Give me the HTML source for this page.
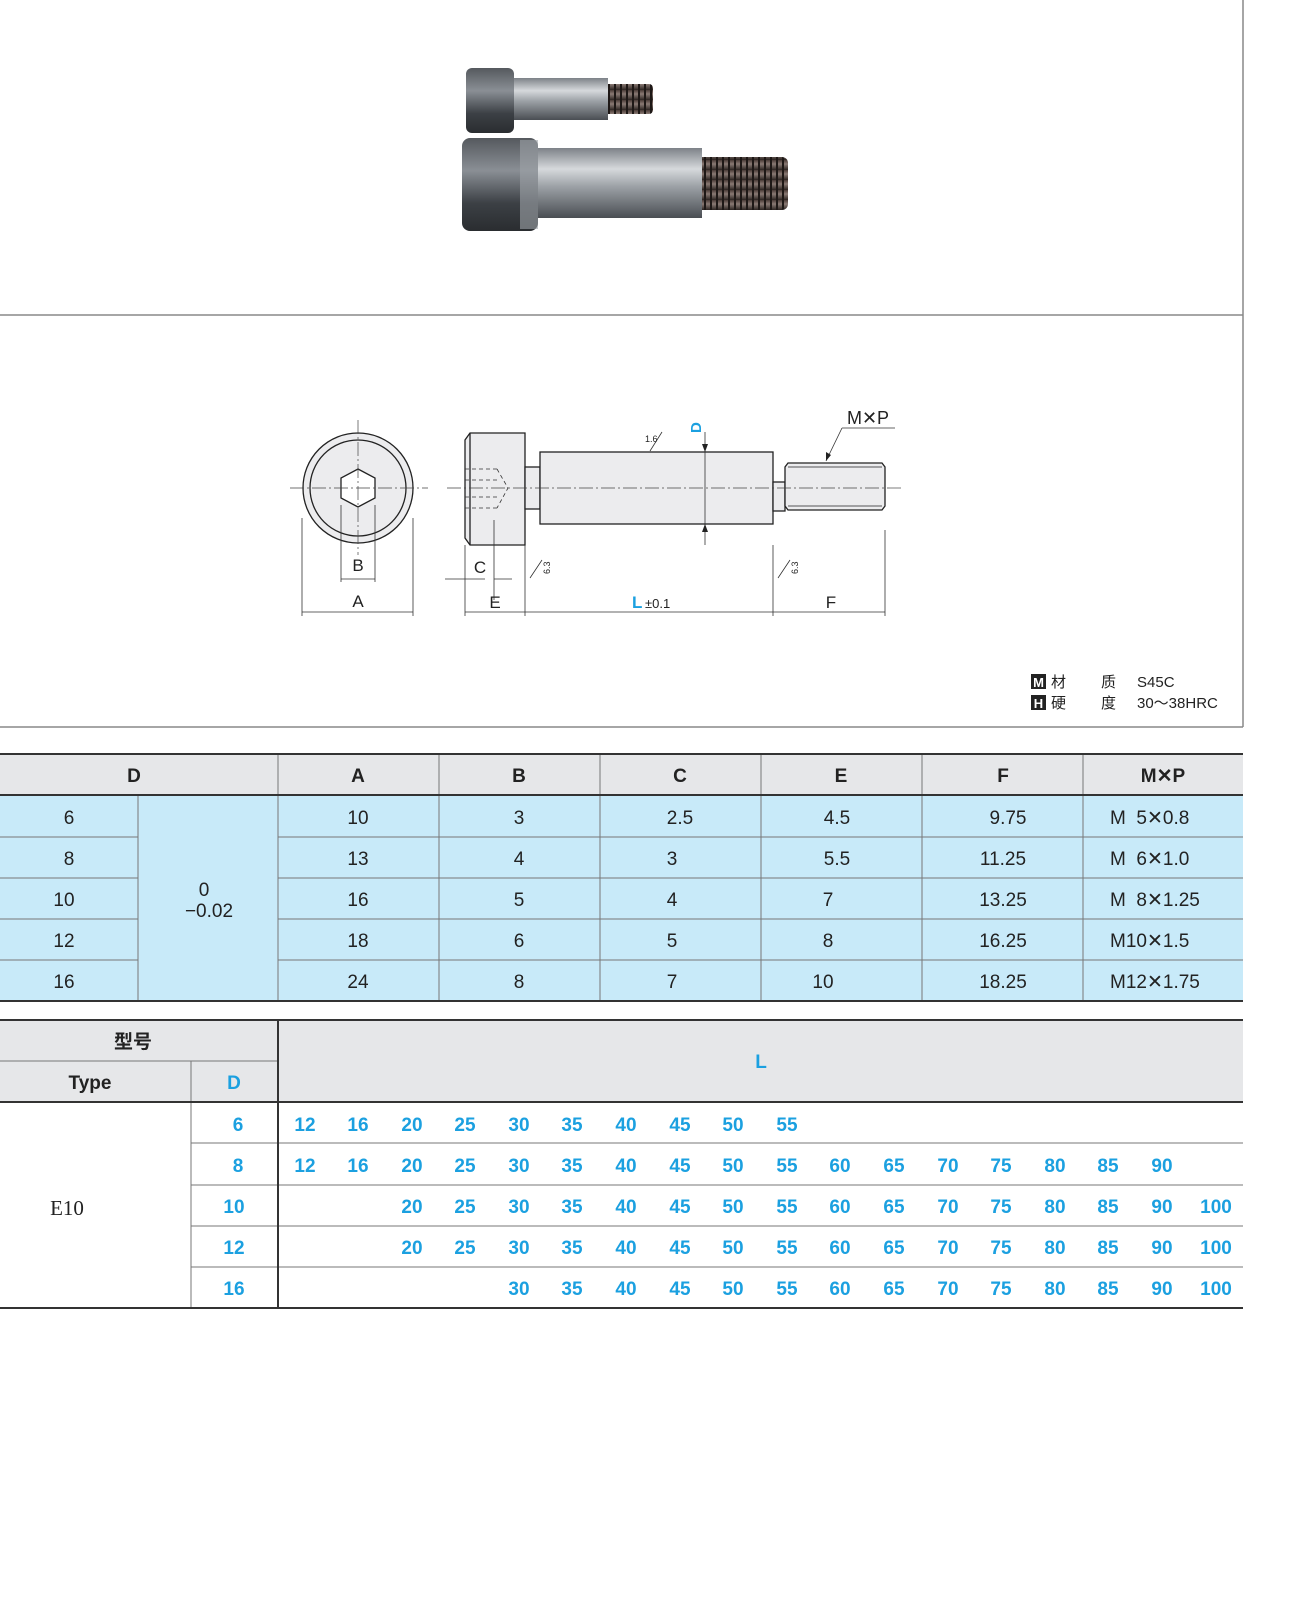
<!DOCTYPE html>
<html><head><meta charset="utf-8"><style>
html,body{margin:0;padding:0;background:#fff;width:1292px;height:1615px;overflow:hidden}
svg{display:block}
text{font-family:"Liberation Sans","Noto Sans CJK SC",sans-serif;white-space:pre}
</style></head><body>
<svg width="1292" height="1615" viewBox="0 0 1292 1615" xmlns="http://www.w3.org/2000/svg">
<defs>
<linearGradient id="hd" x1="0" y1="0" x2="0" y2="1"><stop offset="0" stop-color="#55595e"/><stop offset=".35" stop-color="#8a8f95"/><stop offset=".7" stop-color="#3c4045"/><stop offset="1" stop-color="#2a2d30"/></linearGradient>
<linearGradient id="sh" x1="0" y1="0" x2="0" y2="1"><stop offset="0" stop-color="#7d8288"/><stop offset=".3" stop-color="#d6d9dc"/><stop offset=".55" stop-color="#9ca1a6"/><stop offset="1" stop-color="#4a4e53"/></linearGradient>
<linearGradient id="th" x1="0" y1="0" x2="0" y2="1"><stop offset="0" stop-color="#4a3b36"/><stop offset=".4" stop-color="#8a7a74"/><stop offset="1" stop-color="#2b2320"/></linearGradient>
<pattern id="thr" width="6" height="10" patternUnits="userSpaceOnUse"><rect width="6" height="10" fill="url(#th)"/><line x1="3" y1="0" x2="3" y2="10" stroke="#1e1816" stroke-width="2"/></pattern>
</defs>
<rect width="1292" height="1615" fill="#fff"/>
<line x1="1243" y1="0" x2="1243" y2="727" stroke="#888" stroke-width="1.5"/>
<line x1="0" y1="315" x2="1243" y2="315" stroke="#888" stroke-width="1.5"/>
<line x1="0" y1="727" x2="1243" y2="727" stroke="#888" stroke-width="1.5"/>
<rect x="598" y="84" width="55" height="30" rx="4" fill="url(#thr)"/>
<rect x="510" y="78" width="98" height="42" fill="url(#sh)"/>
<rect x="466" y="68" width="48" height="65" rx="6" fill="url(#hd)"/>
<rect x="692" y="157" width="96" height="53" rx="6" fill="url(#thr)"/>
<rect x="530" y="148" width="172" height="70" fill="url(#sh)"/>
<rect x="462" y="138" width="76" height="93" rx="8" fill="url(#hd)"/>
<rect x="520" y="140" width="18" height="89" fill="#9ea3a8" opacity=".6"/>
<g stroke="#222" fill="none" stroke-width="1.3">
<circle cx="358" cy="488" r="55" fill="#ececee"/>
<circle cx="358" cy="488" r="48"/>
<polygon points="358,469 375,478 375,498 358,507 341,498 341,478" fill="#fff"/>
<polygon points="470,433 525,433 525,545 470,545 465,538 465,440" fill="#ececee"/>
<rect x="525" y="467" width="15" height="42" fill="#ececee"/>
<rect x="540" y="452" width="233" height="72" fill="#ececee"/>
<rect x="773" y="482" width="12" height="29" fill="#ececee"/>
<polygon points="788,463 882,463 885,467 885,506 882,510 788,510 785,506 785,467" fill="#ececee"/>
<line x1="470" y1="433" x2="470" y2="545"/>
<line x1="788" y1="467" x2="882" y2="467" stroke-width=".8"/>
<line x1="788" y1="506" x2="882" y2="506" stroke-width=".8"/>
</g>
<g stroke="#333" stroke-width=".8" fill="none" stroke-dasharray="4,3">
<line x1="465" y1="469" x2="497" y2="469"/><line x1="465" y1="508" x2="497" y2="508"/>
<line x1="465" y1="480" x2="497" y2="480"/><line x1="465" y1="497" x2="497" y2="497"/>
<polyline points="497,469 508,488 497,508"/>
</g>
<g stroke="#444" stroke-width=".7" stroke-dasharray="14,3,2,3">
<line x1="290" y1="488" x2="428" y2="488"/><line x1="358" y1="420" x2="358" y2="555"/>
<line x1="447" y1="488" x2="902" y2="488"/>
</g>
<g stroke="#333" stroke-width=".8">
<line x1="302" y1="518" x2="302" y2="616"/><line x1="413" y1="518" x2="413" y2="616"/>
<line x1="302" y1="612" x2="413" y2="612"/>
<line x1="341" y1="505" x2="341" y2="582"/><line x1="375" y1="505" x2="375" y2="582"/>
<line x1="341" y1="579" x2="375" y2="579"/>
<line x1="465" y1="545" x2="465" y2="616"/><line x1="525" y1="545" x2="525" y2="616"/>
<line x1="494" y1="520" x2="494" y2="600"/>
<line x1="445" y1="579" x2="485" y2="579"/><line x1="494" y1="579" x2="512" y2="579"/>
<line x1="465" y1="612" x2="885" y2="612"/>
<line x1="773" y1="545" x2="773" y2="616"/><line x1="885" y1="530" x2="885" y2="616"/>
<line x1="705" y1="432" x2="705" y2="545"/>
<line x1="826" y1="461" x2="842" y2="428"/><line x1="842" y1="428" x2="895" y2="428"/>
<line x1="650" y1="451" x2="662" y2="432"/>
<line x1="530" y1="578" x2="542" y2="560"/><line x1="778" y1="578" x2="790" y2="560"/>
</g>
<g fill="#222">
<polygon points="705,452 702,444 708,444"/><polygon points="705,524 702,532 708,532"/>
<polygon points="826,461 826,452 831,455"/>
</g>
<g font-size="17" fill="#222" text-anchor="middle">
<text x="358" y="571">B</text><text x="358" y="607">A</text>
<text x="480" y="573">C</text><text x="495" y="608">E</text>
<text x="831" y="608">F</text>
<text x="868" y="424" font-size="18">M✕P</text>
</g>
<text x="632" y="608" font-size="17" fill="#1ba0e0" font-weight="bold">L</text>
<text x="645" y="608" font-size="13" fill="#222">±0.1</text>
<text x="701" y="433" font-size="15" fill="#1ba0e0" font-weight="bold" transform="rotate(-90 701 433)">D</text>
<text x="645" y="442" font-size="9" fill="#222">1.6</text>
<text x="537" y="575" font-size="9" fill="#222" transform="rotate(-90 543 568)">6.3</text>
<text x="785" y="575" font-size="9" fill="#222" transform="rotate(-90 791 568)">6.3</text>
<rect x="1031" y="674" width="15" height="15" fill="#222"/><text x="1038.5" y="687" font-size="13" fill="#fff" text-anchor="middle" font-weight="bold">M</text>
<rect x="1031" y="695" width="15" height="15" fill="#222"/><text x="1038.5" y="708" font-size="13" fill="#fff" text-anchor="middle" font-weight="bold">H</text>
<g font-size="15" fill="#222">
<text x="1051" y="687">材</text><text x="1101" y="687">质</text><text x="1137" y="687">S45C</text>
<text x="1051" y="708">硬</text><text x="1101" y="708">度</text><text x="1137" y="708">30～38HRC</text>
</g>
<rect x="0" y="754" width="1243" height="41" fill="#e6e7e9"/>
<rect x="0" y="795" width="1243" height="206" fill="#c8eaf9"/>
<g stroke="#777" stroke-width="1">
<line x1="0" y1="837" x2="138" y2="837"/><line x1="0" y1="878" x2="138" y2="878"/><line x1="0" y1="919" x2="138" y2="919"/><line x1="0" y1="960" x2="138" y2="960"/>
<line x1="278" y1="837" x2="1243" y2="837"/><line x1="278" y1="878" x2="1243" y2="878"/><line x1="278" y1="919" x2="1243" y2="919"/><line x1="278" y1="960" x2="1243" y2="960"/>
<line x1="138" y1="795" x2="138" y2="1001"/>
<line x1="278" y1="754" x2="278" y2="1001"/><line x1="439" y1="754" x2="439" y2="1001"/><line x1="600" y1="754" x2="600" y2="1001"/><line x1="761" y1="754" x2="761" y2="1001"/><line x1="922" y1="754" x2="922" y2="1001"/><line x1="1083" y1="754" x2="1083" y2="1001"/>
</g>
<g stroke="#333" stroke-width="2"><line x1="0" y1="754" x2="1243" y2="754"/><line x1="0" y1="795" x2="1243" y2="795"/><line x1="0" y1="1001" x2="1243" y2="1001"/></g>
<g font-size="19" fill="#222" text-anchor="middle" font-weight="bold">
<text x="134" y="782">D</text><text x="358" y="782">A</text><text x="519" y="782">B</text><text x="680" y="782">C</text><text x="841" y="782">E</text><text x="1003" y="782">F</text><text x="1163" y="782">M✕P</text>
</g>
<g font-size="19" fill="#222" text-anchor="middle">
<text x="69" y="824">6</text><text x="69" y="865">8</text><text x="64" y="906">10</text><text x="64" y="947">12</text><text x="64" y="988">16</text>
<text x="204" y="896">0</text><text x="209" y="917">−0.02</text>
<text x="358" y="824">10</text><text x="358" y="865">13</text><text x="358" y="906">16</text><text x="358" y="947">18</text><text x="358" y="988">24</text>
<text x="519" y="824">3</text><text x="519" y="865">4</text><text x="519" y="906">5</text><text x="519" y="947">6</text><text x="519" y="988">8</text>
<text x="680" y="824">2.5</text><text x="672" y="865">3</text><text x="672" y="906">4</text><text x="672" y="947">5</text><text x="672" y="988">7</text>
<text x="837" y="824">4.5</text><text x="837" y="865">5.5</text><text x="828" y="906">7</text><text x="828" y="947">8</text><text x="823" y="988">10</text>
<text x="1008" y="824">9.75</text><text x="1003" y="865">11.25</text><text x="1003" y="906">13.25</text><text x="1003" y="947">16.25</text><text x="1003" y="988">18.25</text>
</g>
<g font-size="19" fill="#222">
<text x="1110" y="824">M  5✕0.8</text><text x="1110" y="865">M  6✕1.0</text><text x="1110" y="906">M  8✕1.25</text><text x="1110" y="947">M10✕1.5</text><text x="1110" y="988">M12✕1.75</text>
</g>
<rect x="0" y="1020" width="1243" height="82" fill="#e6e7e9"/>
<g stroke="#777" stroke-width="1">
<line x1="0" y1="1061" x2="278" y2="1061"/><line x1="191" y1="1061" x2="191" y2="1308"/>
<line x1="191" y1="1143" x2="1243" y2="1143"/><line x1="191" y1="1185" x2="1243" y2="1185"/><line x1="191" y1="1226" x2="1243" y2="1226"/><line x1="191" y1="1267" x2="1243" y2="1267"/>
</g>
<g stroke="#333" stroke-width="2"><line x1="0" y1="1020" x2="1243" y2="1020"/><line x1="0" y1="1102" x2="1243" y2="1102"/><line x1="0" y1="1308" x2="1243" y2="1308"/><line x1="278" y1="1020" x2="278" y2="1308"/></g>
<g font-size="19" font-weight="bold" text-anchor="middle">
<text x="133" y="1048" fill="#222">型号</text><text x="90" y="1089" fill="#222">Type</text><text x="234" y="1089" fill="#1ba0e0">D</text><text x="761" y="1068" fill="#1ba0e0">L</text>
</g>
<text x="67" y="1215" font-size="21" fill="#222" text-anchor="middle" style="font-family:'Liberation Serif',serif">E10</text>
<g font-size="19" font-weight="bold" fill="#1ba0e0" text-anchor="middle">
<text x="238" y="1131">6</text><text x="238" y="1172">8</text><text x="234" y="1213">10</text><text x="234" y="1254">12</text><text x="234" y="1295">16</text>
<text x="305" y="1131">12</text><text x="358" y="1131">16</text><text x="412" y="1131">20</text><text x="465" y="1131">25</text><text x="519" y="1131">30</text><text x="572" y="1131">35</text><text x="626" y="1131">40</text><text x="680" y="1131">45</text><text x="733" y="1131">50</text><text x="787" y="1131">55</text>
<text x="305" y="1172">12</text><text x="358" y="1172">16</text><text x="412" y="1172">20</text><text x="465" y="1172">25</text><text x="519" y="1172">30</text><text x="572" y="1172">35</text><text x="626" y="1172">40</text><text x="680" y="1172">45</text><text x="733" y="1172">50</text><text x="787" y="1172">55</text><text x="840" y="1172">60</text><text x="894" y="1172">65</text><text x="948" y="1172">70</text><text x="1001" y="1172">75</text><text x="1055" y="1172">80</text><text x="1108" y="1172">85</text><text x="1162" y="1172">90</text>
<text x="412" y="1213">20</text><text x="465" y="1213">25</text><text x="519" y="1213">30</text><text x="572" y="1213">35</text><text x="626" y="1213">40</text><text x="680" y="1213">45</text><text x="733" y="1213">50</text><text x="787" y="1213">55</text><text x="840" y="1213">60</text><text x="894" y="1213">65</text><text x="948" y="1213">70</text><text x="1001" y="1213">75</text><text x="1055" y="1213">80</text><text x="1108" y="1213">85</text><text x="1162" y="1213">90</text><text x="1216" y="1213">100</text>
<text x="412" y="1254">20</text><text x="465" y="1254">25</text><text x="519" y="1254">30</text><text x="572" y="1254">35</text><text x="626" y="1254">40</text><text x="680" y="1254">45</text><text x="733" y="1254">50</text><text x="787" y="1254">55</text><text x="840" y="1254">60</text><text x="894" y="1254">65</text><text x="948" y="1254">70</text><text x="1001" y="1254">75</text><text x="1055" y="1254">80</text><text x="1108" y="1254">85</text><text x="1162" y="1254">90</text><text x="1216" y="1254">100</text>
<text x="519" y="1295">30</text><text x="572" y="1295">35</text><text x="626" y="1295">40</text><text x="680" y="1295">45</text><text x="733" y="1295">50</text><text x="787" y="1295">55</text><text x="840" y="1295">60</text><text x="894" y="1295">65</text><text x="948" y="1295">70</text><text x="1001" y="1295">75</text><text x="1055" y="1295">80</text><text x="1108" y="1295">85</text><text x="1162" y="1295">90</text><text x="1216" y="1295">100</text>
</g>
</svg>
</body></html>
